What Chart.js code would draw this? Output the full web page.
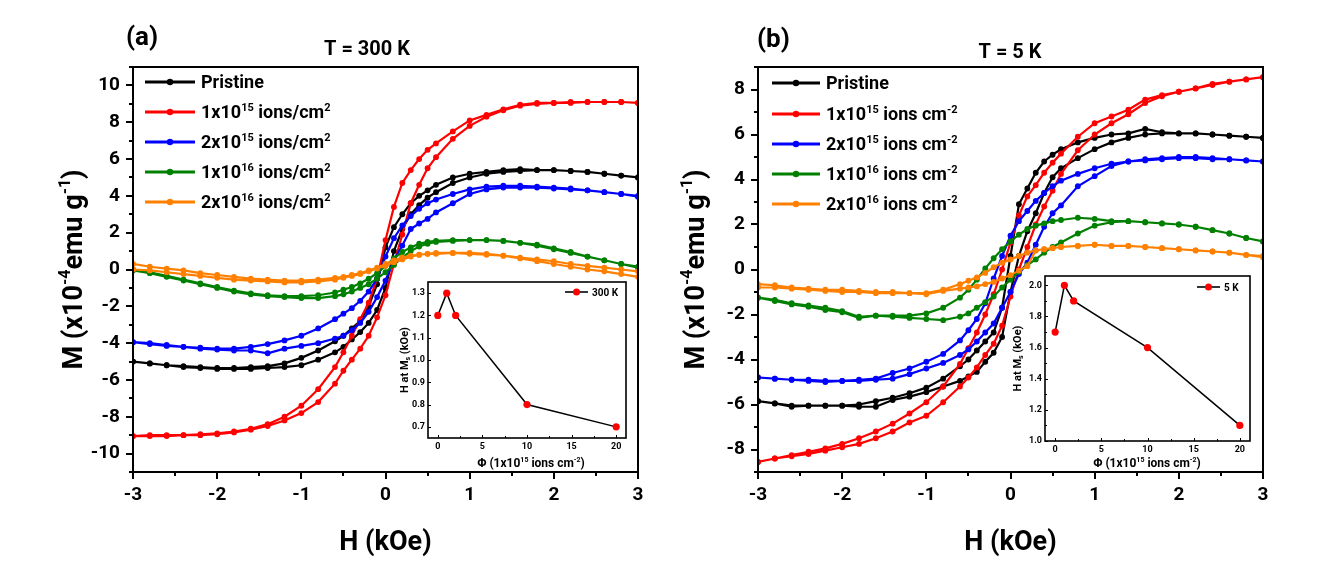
<!DOCTYPE html>
<html>
<head>
<meta charset="utf-8">
<script src="https://cdn.jsdelivr.net/npm/chart.js@4.4.0/dist/chart.umd.min.js"></script>
<style>
    html, body { margin: 0; padding: 0; background: #fff; }
    #wrap { position: relative; width: 1319px; height: 571px; overflow: hidden; }
    #wrap canvas { position: absolute; }
</style>
</head>
<body>
<div id="wrap">
    <canvas id="mainA" width="660" height="571" style="left:0px;top:0px"></canvas>
    <canvas id="mainB" width="660" height="571" style="left:659px;top:0px"></canvas>
    <canvas id="insetA" width="245" height="200" style="left:390px;top:272px"></canvas>
    <canvas id="insetB" width="252" height="206" style="left:1005px;top:266px"></canvas>
</div>
<script>
// ---- data ----
// field grid, kOe
const H_FIELD = [-3, -2.8, -2.6, -2.4, -2.2, -2, -1.8, -1.6, -1.4, -1.2, -1, -0.8, -0.6, -0.5, -0.4, -0.3, -0.2, -0.1, 0,
    0.1, 0.2, 0.3, 0.4, 0.5, 0.6, 0.8, 1, 1.2, 1.4, 1.6, 1.8, 2, 2.2, 2.4, 2.6, 2.8, 3];

// (a) T = 300 K, M (x1e-4 emu/g); "down" = sweep from +3 to -3, "up" = sweep back, both listed in H_FIELD order
const A_pristine_down = [-5.0, -5.1, -5.2, -5.25, -5.3, -5.35, -5.35, -5.3, -5.25, -5.1, -4.8, -4.4, -3.9, -3.6, -3.2, -2.8, -2.0, -0.8, 1.2, 2.3, 3.0, 3.6, 4.0, 4.3, 4.6, 5.0, 5.2, 5.3, 5.4, 5.45, 5.4, 5.4, 5.35, 5.3, 5.2, 5.1, 5.0];
const A_pristine_up = [-5.0, -5.1, -5.2, -5.3, -5.35, -5.4, -5.4, -5.4, -5.35, -5.3, -5.2, -4.9, -4.5, -4.2, -3.8, -3.4, -2.9, -2.2, -1.0, 1.0, 2.2, 3.0, 3.5, 3.9, 4.2, 4.7, 5.0, 5.2, 5.3, 5.35, 5.4, 5.4, 5.35, 5.3, 5.2, 5.1, 5.0];
const A_1e15_down = [-9.05, -9.0, -9.0, -9.0, -8.95, -8.9, -8.8, -8.65, -8.4, -8.0, -7.4, -6.5, -5.3, -4.5, -3.6, -2.7, -1.8, -0.5, 1.6, 3.4, 4.7, 5.4, 6.0, 6.5, 6.85, 7.5, 8.1, 8.4, 8.7, 8.95, 9.05, 9.05, 9.1, 9.1, 9.1, 9.1, 9.05];
const A_1e15_up = [-9.05, -9.05, -9.05, -9.0, -9.0, -8.95, -8.85, -8.7, -8.5, -8.2, -7.8, -7.2, -6.2, -5.5, -4.9, -4.3, -3.6, -2.6, -1.4, 0.3, 1.9, 3.6, 4.6, 5.5, 6.1, 7.1, 7.8, 8.3, 8.65, 8.9, 9.0, 9.05, 9.05, 9.1, 9.1, 9.1, 9.05];
const A_2e15_down = [-3.95, -4.0, -4.1, -4.2, -4.25, -4.3, -4.3, -4.2, -4.05, -3.85, -3.6, -3.2, -2.7, -2.4, -2.1, -1.7, -1.2, -0.5, 0.7, 1.7, 2.4, 2.9, 3.3, 3.6, 3.8, 4.1, 4.35, 4.5, 4.55, 4.55, 4.5, 4.45, 4.4, 4.3, 4.2, 4.1, 4.0];
const A_2e15_up = [-3.95, -4.05, -4.15, -4.2, -4.3, -4.35, -4.4, -4.4, -4.55, -4.3, -4.15, -4.0, -3.75, -3.6, -3.3, -2.9, -2.3, -1.5, -0.6, 0.5, 1.3, 2.2, 2.5, 2.75, 3.1, 3.6, 4.1, 4.35, 4.45, 4.45, 4.45, 4.4, 4.35, 4.3, 4.2, 4.1, 3.95];
const A_1e16_down = [0.0, -0.15, -0.35, -0.55, -0.75, -0.95, -1.15, -1.3, -1.4, -1.45, -1.45, -1.4, -1.25, -1.1, -0.95, -0.75, -0.5, -0.2, 0.2, 0.6, 0.95, 1.2, 1.4, 1.5, 1.55, 1.6, 1.6, 1.6, 1.55, 1.45, 1.35, 1.15, 0.95, 0.7, 0.5, 0.3, 0.15];
const A_1e16_up = [-0.05, -0.2, -0.4, -0.6, -0.8, -1.0, -1.2, -1.35, -1.45, -1.5, -1.55, -1.55, -1.45, -1.35, -1.2, -1.0, -0.8, -0.5, -0.15, 0.25, 0.65, 1.0, 1.25, 1.4, 1.5, 1.55, 1.6, 1.6, 1.55, 1.45, 1.3, 1.1, 0.9, 0.7, 0.5, 0.3, 0.1];
const A_2e16_down = [0.3, 0.15, 0.05, -0.05, -0.2, -0.3, -0.4, -0.5, -0.55, -0.6, -0.6, -0.55, -0.45, -0.4, -0.3, -0.2, -0.05, 0.1, 0.3, 0.5, 0.65, 0.75, 0.8, 0.85, 0.9, 0.9, 0.85, 0.8, 0.75, 0.65, 0.55, 0.45, 0.3, 0.2, 0.1, 0.0, -0.1];
const A_2e16_up = [0.0, -0.05, -0.15, -0.25, -0.35, -0.45, -0.55, -0.6, -0.65, -0.7, -0.7, -0.65, -0.55, -0.45, -0.35, -0.25, -0.1, 0.05, 0.2, 0.4, 0.55, 0.7, 0.8, 0.85, 0.85, 0.9, 0.9, 0.85, 0.75, 0.6, 0.45, 0.3, 0.15, 0.0, -0.1, -0.25, -0.4];

// (b) T = 5 K
const B_pristine_down = [-5.85, -5.95, -6.05, -6.05, -6.05, -6.05, -6.0, -5.85, -5.7, -5.5, -5.25, -4.85, -4.3, -4.0, -3.6, -3.2, -2.8, -1.7, 0.6, 2.9, 3.6, 4.3, 4.8, 5.1, 5.35, 5.65, 5.85, 6.0, 6.05, 6.25, 6.1, 6.05, 6.05, 6.0, 5.95, 5.9, 5.85];
const B_pristine_up = [-5.85, -5.95, -6.1, -6.05, -6.05, -6.05, -6.1, -6.1, -5.8, -5.65, -5.45, -5.2, -4.95, -4.75, -4.55, -4.1, -3.7, -3.0, -1.0, 0.6, 1.7, 2.5, 3.4, 4.1, 4.5, 4.95, 5.35, 5.65, 5.85, 6.0, 6.05, 6.05, 6.05, 6.0, 5.95, 5.9, 5.85];
const B_1e15_down = [-8.55, -8.4, -8.25, -8.1, -7.95, -7.75, -7.5, -7.2, -6.85, -6.4, -5.9, -5.2, -4.2, -3.5, -2.8, -2.0, -1.1, 0.0, 1.2, 2.4, 3.25, 3.75, 4.3, 4.75, 5.15, 5.9, 6.5, 6.8, 7.1, 7.55, 7.75, 7.9, 8.05, 8.25, 8.35, 8.45, 8.55];
const B_1e15_up = [-8.55, -8.4, -8.3, -8.2, -8.05, -7.9, -7.75, -7.5, -7.2, -6.8, -6.5, -5.9, -5.2, -4.8, -4.35, -3.8, -3.3, -2.5, -1.2, 0.0, 1.0, 2.0, 2.8, 3.5, 4.25, 5.3, 6.0, 6.5, 6.9, 7.4, 7.7, 7.9, 8.05, 8.2, 8.35, 8.45, 8.55];
const B_2e15_down = [-4.8, -4.85, -4.9, -4.9, -4.95, -4.95, -4.9, -4.85, -4.6, -4.4, -4.1, -3.75, -3.15, -2.7, -2.2, -1.5, -0.4, 0.6, 1.5, 2.15, 2.6, 3.05, 3.4, 3.7, 3.95, 4.25, 4.5, 4.7, 4.8, 4.9, 4.95, 5.0, 5.0, 4.95, 4.9, 4.85, 4.8];
const B_2e15_up = [-4.8, -4.85, -4.9, -4.95, -5.0, -4.95, -4.95, -4.9, -4.85, -4.65, -4.4, -4.15, -3.8, -3.55, -3.2, -2.8, -2.4, -1.7, -1.0, -0.2, 0.3, 1.1, 1.9, 2.5, 2.85, 3.7, 4.15, 4.6, 4.8, 4.85, 4.9, 4.95, 4.95, 4.9, 4.9, 4.85, 4.8];
const B_1e16_down = [-1.25, -1.35, -1.5, -1.6, -1.7, -1.85, -2.1, -2.05, -2.05, -2.05, -1.95, -1.7, -1.25, -0.9, -0.45, 0.05, 0.5, 0.9, 1.25, 1.55, 1.8, 1.95, 2.05, 2.15, 2.2, 2.3, 2.25, 2.15, 2.15, 2.1, 2.05, 2.0, 1.9, 1.75, 1.6, 1.4, 1.25];
const B_1e16_up = [-1.25, -1.4, -1.55, -1.65, -1.8, -1.9, -2.15, -2.05, -2.1, -2.15, -2.2, -2.25, -2.1, -1.95, -1.7, -1.45, -1.2, -0.8, -0.45, -0.1, 0.2, 0.45, 0.75, 1.0, 1.2, 1.6, 1.95, 2.1, 2.15, 2.1, 2.05, 2.0, 1.9, 1.75, 1.6, 1.4, 1.25];
const B_2e16_down = [-0.65, -0.7, -0.8, -0.85, -0.9, -0.9, -0.95, -1.0, -1.0, -1.05, -1.05, -0.9, -0.65, -0.5, -0.35, -0.15, 0.1, 0.3, 0.45, 0.6, 0.75, 0.85, 0.9, 0.95, 1.0, 1.05, 1.1, 1.05, 1.05, 1.0, 0.95, 0.9, 0.85, 0.8, 0.75, 0.65, 0.6];
const B_2e16_up = [-0.8, -0.8, -0.85, -0.9, -0.95, -1.0, -1.0, -1.05, -1.05, -1.05, -1.1, -0.95, -0.85, -0.8, -0.75, -0.65, -0.55, -0.4, -0.25, -0.05, 0.15, 0.85, 0.9, 0.95, 1.0, 1.05, 1.1, 1.05, 1.05, 1.0, 0.95, 0.9, 0.85, 0.8, 0.75, 0.65, 0.55];

const SERIES_COLORS = ['#000000', '#ff0000', '#0000ff', '#008000', '#ff8000'];
const NAMES_A = ['Pristine', '1x10^{15} ions/cm^{2}', '2x10^{15} ions/cm^{2}', '1x10^{16} ions/cm^{2}', '2x10^{16} ions/cm^{2}'];
const NAMES_B = ['Pristine', '1x10^{15} ions cm^{-2}', '2x10^{15} ions cm^{-2}', '1x10^{16} ions cm^{-2}', '2x10^{16} ions cm^{-2}'];

// insets: field at saturation vs fluence
const FLUENCE = [0, 1, 2, 10, 20];
const HMS_300K = [1.2, 1.3, 1.2, 0.8, 0.7];
const HMS_5K = [1.7, 2.0, 1.9, 1.6, 1.1];
const INSET_X_MAJOR = [0, 5, 10, 15, 20];
const INSET_X_MINOR = [2.5, 7.5, 12.5, 17.5];
const INSET_A_Y_MAJOR = [0.7, 0.8, 0.9, 1.0, 1.1, 1.2, 1.3];
const INSET_B_Y_MAJOR = [1.0, 1.2, 1.4, 1.6, 1.8, 2.0];
const INSET_B_Y_MINOR = [1.1, 1.3, 1.5, 1.7, 1.9];

const FONT = 'Roboto, "Liberation Sans", sans-serif';
Chart.defaults.font.family = FONT;
Chart.defaults.color = '#000';

// ---- text helpers (super/subscripts) ----
function parseRich(str) {
    const parts = [];
    const re = /\^\{([^}]*)\}|_\{([^}]*)\}|([^^_]+)/g;
    let m;
    while ((m = re.exec(str))) {
        if (m[1] !== undefined) parts.push({ t: m[1], k: 'sup' });
        else if (m[2] !== undefined) parts.push({ t: m[2], k: 'sub' });
        else parts.push({ t: m[3], k: 'n' });
    }
    return parts;
}

function drawRich(ctx, str, x, baseline, size, align) {
    const parts = parseRich(str);
    const small = Math.round(size * 0.6);
    let w = 0;
    parts.forEach(p => {
        ctx.font = `bold ${p.k === 'n' ? size : small}px ${FONT}`;
        p.w = ctx.measureText(p.t).width;
        w += p.w;
    });
    let cx = align === 'center' ? x - w / 2 : (align === 'right' ? x - w : x);
    ctx.textAlign = 'left';
    ctx.textBaseline = 'alphabetic';
    ctx.fillStyle = '#000';
    parts.forEach(p => {
        ctx.font = `bold ${p.k === 'n' ? size : small}px ${FONT}`;
        const dy = p.k === 'sup' ? -size * 0.42 : (p.k === 'sub' ? size * 0.22 : 0);
        ctx.fillText(p.t, cx, baseline + dy);
        cx += p.w;
    });
}

function drawRichMid(ctx, str, x, mid, size, align) {
    drawRich(ctx, str, x, mid + size * 0.36, size, align);
}

function drawRichRotated(ctx, str, cx, cy, size) {
    ctx.save();
    ctx.translate(cx, cy);
    ctx.rotate(-Math.PI / 2);
    drawRich(ctx, str, 0, size * 0.36, size, 'center');
    ctx.restore();
}

function tickLine(ctx, x1, y1, x2, y2) {
    ctx.beginPath();
    ctx.moveTo(x1, y1);
    ctx.lineTo(x2, y2);
    ctx.stroke();
}

// ---- main hysteresis panels ----
function loopPoints(down, up) {
    const pts = [];
    for (let i = H_FIELD.length - 1; i >= 0; i--) pts.push({ x: H_FIELD[i], y: down[i] });
    for (let i = 0; i < H_FIELD.length; i++) pts.push({ x: H_FIELD[i], y: up[i] });
    return pts;
}

function panelPlugin(cfg) {
    return {
        id: 'panelDeco',
        afterDraw(chart) {
            const ctx = chart.ctx;
            const ca = chart.chartArea;
            const xs = chart.scales.x;
            const ys = chart.scales.y;
            ctx.save();
            ctx.strokeStyle = '#000';
            ctx.lineWidth = 2;
            ctx.strokeRect(ca.left, ca.top, ca.right - ca.left, ca.bottom - ca.top);
            xs.ticks.forEach(t => {
                const px = Math.round(xs.getPixelForValue(t.value));
                const len = Number.isInteger(t.value) ? 7 : 4;
                tickLine(ctx, px, ca.bottom, px, ca.bottom + len);
            });
            ys.ticks.forEach(t => {
                const py = Math.round(ys.getPixelForValue(t.value));
                const len = t.value % 2 === 0 ? 7 : 4;
                tickLine(ctx, ca.left, py, ca.left - len, py);
            });

            // panel label and title
            drawRichMid(ctx, cfg.label, cfg.labelX, cfg.labelY, 26, 'left');
            drawRichMid(ctx, cfg.title, cfg.titleX, cfg.titleY, 20, 'center');
            // axis titles
            drawRichMid(ctx, 'H (kOe)', (ca.left + ca.right) / 2, 540, 27, 'center');
            drawRichRotated(ctx, 'M (x10^{-4}emu g^{-1})', cfg.yTitleX, (ca.top + ca.bottom) / 2, 27);

            // legend
            cfg.names.forEach((name, i) => {
                const y = cfg.legendRows[i];
                ctx.strokeStyle = SERIES_COLORS[i];
                ctx.fillStyle = SERIES_COLORS[i];
                ctx.lineWidth = 3;
                tickLine(ctx, cfg.legendX0, y, cfg.legendX1, y);
                ctx.beginPath();
                ctx.arc((cfg.legendX0 + cfg.legendX1) / 2, y, 3.2, 0, Math.PI * 2);
                ctx.fill();
                drawRichMid(ctx, name, cfg.legendTextX, y, 18, 'left');
            });
            ctx.restore();
        }
    };
}

function makePanel(canvasId, loops, yMin, yMax, yWidth, rightPad, cfg) {
    const datasets = loops.map((lp, i) => ({
        data: loopPoints(lp[0], lp[1]),
        showLine: true,
        borderColor: SERIES_COLORS[i],
        backgroundColor: SERIES_COLORS[i],
        borderWidth: 2.2,
        pointRadius: 2.9,
        pointBorderWidth: 0,
        pointBackgroundColor: SERIES_COLORS[i],
        tension: 0,
        order: 5 - i
    }));
    return new Chart(document.getElementById(canvasId), {
        type: 'scatter',
        data: { datasets },
        options: {
            responsive: false,
            animation: false,
            devicePixelRatio: 1,
            events: [],
            layout: { padding: { left: 0, right: rightPad, top: 67, bottom: 59 } },
            plugins: { legend: { display: false }, tooltip: { enabled: false } },
            scales: {
                x: {
                    type: 'linear', min: -3, max: 3,
                    grid: { display: false, drawTicks: false },
                    border: { display: false },
                    ticks: {
                        stepSize: 0.5, autoSkip: false, maxRotation: 0, padding: 12,
                        color: '#000', font: { size: 19, weight: 'bold' },
                        callback: v => (Number.isInteger(v) ? String(v) : '')
                    },
                    afterFit: s => { s.height = 40; }
                },
                y: {
                    type: 'linear', min: yMin, max: yMax,
                    grid: { display: false, drawTicks: false },
                    border: { display: false },
                    ticks: {
                        stepSize: 1, autoSkip: false, padding: 13,
                        color: '#000', font: { size: 19, weight: 'bold' },
                        callback: v => (v % 2 === 0 ? String(v) : '')
                    },
                    afterFit: s => { s.width = yWidth; }
                }
            }
        },
        plugins: [panelPlugin(cfg)]
    });
}

makePanel('mainA', [
    [A_pristine_down, A_pristine_up],
    [A_1e15_down, A_1e15_up],
    [A_2e15_down, A_2e15_up],
    [A_1e16_down, A_1e16_up],
    [A_2e16_down, A_2e16_up]
], -11, 11, 133, 22, {
    label: '(a)', labelX: 126, labelY: 36,
    title: 'T = 300 K', titleX: 367, titleY: 48,
    yTitleX: 72,
    names: NAMES_A, legendRows: [82, 112, 142, 172, 202],
    legendX0: 145, legendX1: 195, legendTextX: 201
});

makePanel('mainB', [
    [B_pristine_down, B_pristine_up],
    [B_1e15_down, B_1e15_up],
    [B_2e15_down, B_2e15_up],
    [B_1e16_down, B_1e16_up],
    [B_2e16_down, B_2e16_up]
], -9, 9, 99, 56, {
    label: '(b)', labelX: 98, labelY: 38,
    title: 'T = 5 K', titleX: 351, titleY: 51,
    yTitleX: 35,
    names: NAMES_B, legendRows: [83, 114, 144, 174, 204],
    legendX0: 113, legendX1: 161, legendTextX: 167
});

// ---- insets ----
function insetPlugin(cfg) {
    return {
        id: 'insetDeco',
        beforeDraw(chart) {
            const ca = chart.chartArea;
            chart.ctx.save();
            chart.ctx.fillStyle = '#fff';
            chart.ctx.fillRect(ca.left, ca.top, ca.right - ca.left, ca.bottom - ca.top);
            chart.ctx.restore();
        },
        afterDraw(chart) {
            const ctx = chart.ctx;
            const ca = chart.chartArea;
            const xs = chart.scales.x;
            const ys = chart.scales.y;
            ctx.save();
            ctx.strokeStyle = '#000';
            ctx.lineWidth = 1.6;
            ctx.strokeRect(ca.left, ca.top, ca.right - ca.left, ca.bottom - ca.top);
            ctx.lineWidth = 1;
            xs.ticks.forEach(t => {
                const px = Math.round(xs.getPixelForValue(t.value)) + 0.5;
                const len = INSET_X_MAJOR.includes(t.value) ? 3 : 2;
                tickLine(ctx, px, ca.bottom, px, ca.bottom - len);
            });
            ys.ticks.forEach(t => {
                const py = Math.round(ys.getPixelForValue(t.value)) + 0.5;
                const len = cfg.yMajor.includes(t.value) ? 3 : 2;
                tickLine(ctx, ca.left, py, ca.left + len, py);
            });
            drawRichMid(ctx, 'Φ (1x10^{15} ions cm^{-2})', cfg.xTitleX, cfg.xTitleY, 12, 'center');
            drawRichRotated(ctx, 'H at M_{s} (kOe)', cfg.yTitleX, (ca.top + ca.bottom) / 2, 11);
            // legend
            const ly = cfg.legendY;
            ctx.strokeStyle = '#000';
            ctx.lineWidth = 1.6;
            tickLine(ctx, cfg.legendX0, ly, cfg.legendX1, ly);
            ctx.fillStyle = '#ff0000';
            ctx.beginPath();
            ctx.arc((cfg.legendX0 + cfg.legendX1) / 2, ly, 3.5, 0, Math.PI * 2);
            ctx.fill();
            drawRichMid(ctx, cfg.legend, cfg.legendTextX, ly, 10, 'left');
            ctx.restore();
        }
    };
}

function makeInset(canvasId, values, yMin, yMax, yMajor, yMinor, yWidth, rightPad, bottomPad, xHeight, cfg) {
    return new Chart(document.getElementById(canvasId), {
        type: 'scatter',
        data: {
            datasets: [{
                data: FLUENCE.map((f, i) => ({ x: f, y: values[i] })),
                showLine: true,
                borderColor: '#000',
                borderWidth: 1.5,
                pointRadius: 3.6,
                pointBorderWidth: 0,
                pointBackgroundColor: '#ff0000',
                tension: 0
            }]
        },
        options: {
            responsive: false,
            animation: false,
            devicePixelRatio: 1,
            events: [],
            layout: { padding: { left: 0, right: rightPad, top: 10, bottom: bottomPad } },
            plugins: { legend: { display: false }, tooltip: { enabled: false } },
            scales: {
                x: {
                    type: 'linear', min: -1.1, max: 21.1,
                    grid: { display: false, drawTicks: false },
                    border: { display: false },
                    afterBuildTicks: s => { s.ticks = INSET_X_MAJOR.concat(INSET_X_MINOR).sort((a, b) => a - b).map(v => ({ value: v })); },
                    ticks: {
                        autoSkip: false, maxRotation: 0, padding: 3,
                        color: '#000', font: { size: 9, weight: 'bold' },
                        callback: v => (INSET_X_MAJOR.includes(v) ? String(v) : '')
                    },
                    afterFit: s => { s.height = xHeight; }
                },
                y: {
                    type: 'linear', min: yMin, max: yMax,
                    grid: { display: false, drawTicks: false },
                    border: { display: false },
                    afterBuildTicks: s => { s.ticks = yMajor.concat(yMinor).sort((a, b) => a - b).map(v => ({ value: v })); },
                    ticks: {
                        autoSkip: false, padding: 3,
                        color: '#000', font: { size: 9, weight: 'bold' },
                        callback: v => (yMajor.includes(v) ? v.toFixed(1) : '')
                    },
                    afterFit: s => { s.width = yWidth; }
                }
            }
        },
        plugins: [insetPlugin(Object.assign({ yMajor }, cfg))]
    });
}

makeInset('insetA', HMS_300K, 0.65, 1.35, INSET_A_Y_MAJOR, [], 38, 9, 20, 14, {
    xTitleX: 141, xTitleY: 191, yTitleX: 14,
    legend: '300 K', legendY: 20, legendX0: 175, legendX1: 198, legendTextX: 202
});

makeInset('insetB', HMS_5K, 1.0, 2.06, INSET_B_Y_MAJOR, INSET_B_Y_MINOR, 40, 7, 18, 13, {
    xTitleX: 142, xTitleY: 197, yTitleX: 12,
    legend: '5 K', legendY: 21, legendX0: 192, legendX1: 215, legendTextX: 219
});
</script>
</body>
</html>
